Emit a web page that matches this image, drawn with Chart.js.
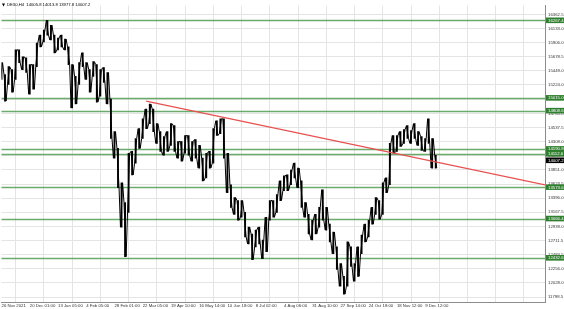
<!DOCTYPE html>
<html><head><meta charset="utf-8">
<script src="https://cdn.jsdelivr.net/npm/chart.js@4.4.0/dist/chart.umd.min.js"></script>
<style>html,body{margin:0;padding:0;background:#fff;overflow:hidden}#wrap{width:564px;height:309px;position:relative}</style>
</head><body><div id="wrap"><canvas id="c" width="564" height="309"></canvas></div>
<script>
const symbolTitle = "DE30,H4  14005.8 14013.8 13977.8 14007.2";
const dateLabels = ["26 Nov 2021","20 Dec 01:00","13 Jan 05:00","4 Feb 05:00","28 Feb 01:00","22 Mar 05:00","19 Apr 10:00","16 May 14:00","10 Jun 18:00","8 Jul 02:00","4 Aug 06:00","31 Aug 10:00","27 Sep 14:00","24 Oct 18:00","18 Nov 12:00","9 Dec 12:00"];
const priceTicks = [16362.5,16133.0,15906.0,15678.5,15449.0,15224.0,14994.5,14765.0,14537.5,14308.0,14080.5,13851.0,13623.5,13396.0,13167.5,12939.0,12711.5,12483.5,12256.0,12028.0,11798.5];
const highs = [15583,15393,15520,15472,15790,15790,15679,15663,15552,15552,15901,16029,16108,16267,16188,16029,15981,16029,15965,15838,
15552,15361,15583,15742,15583,15472,15599,15552,15472,15504,15424,14995,14470,14200,13644,13326,14121,14152,14359,14518,
14677,14836,14916,14836,14598,14470,14391,14470,14598,14566,14311,14311,14407,14407,14311,14343,14248,14041,14121,14152,
14518,14645,14677,14677,14121,13612,13405,13357,13357,13167,12928,12817,12880,12928,12721,13087,13357,13357,13453,13675,
13755,13771,13850,13961,13882,13675,13326,13135,13039,13135,13246,13532,13246,12976,12849,12610,12340,12133,12690,12610,
12340,12610,12801,12976,13039,13246,13405,13357,13644,13723,14280,14407,14407,14470,14502,14566,14486,14598,14470,14391,
14359,14677,14359,14089];
const lows = [15313,14963,15234,15106,15313,15583,15472,15424,15075,15154,15520,15838,15917,16029,15949,15742,15790,15838,15790,15552,
14852,14916,15234,15520,15313,15106,15361,14947,15043,15265,14916,14359,14041,13564,12928,12451,13167,13771,13961,14200,
14359,14518,14598,14470,14280,14152,14089,14152,14248,14152,14041,13993,14121,14089,13993,14041,13882,13675,13723,13882,
13961,14407,14439,14041,13485,13246,13135,13039,13087,12769,12658,12403,12610,12658,12419,12531,13039,13087,13167,13357,
13516,13516,13612,13723,13564,13246,13087,12817,12721,12817,12928,13039,12880,12690,12499,12244,11974,11847,11974,12292,
12054,12133,12499,12690,12769,12976,13135,13055,13135,13485,13612,14121,14152,14232,14280,14359,14280,14359,14248,14168,
14152,14280,13882,13882];
const levels = [16267.4,15015.0,14808.6,14190.9,14112.6,13573.6,13066.4,12432.6];
const lastPrice = 14007.2;
const trendPoints = [{x:40.96,y:14963},{x:153.95,y:13611}];

const Y_MIN = 11719.3, Y_MAX = 16505.1, X_MAX = 153.95;
const FONT = {size:4.3, family:'"Liberation Sans", Arial, sans-serif'};

// zigzag trace through each bar's low and high (built from the arrays above)
const trace = [];
highs.forEach((h,i)=>{
  if(i%2===0){ trace.push({x:i-0.3,y:lows[i]}); trace.push({x:i+0.3,y:h}); }
  else { trace.push({x:i-0.3,y:h}); trace.push({x:i+0.3,y:lows[i]}); }
});

const overlay = {
  id:'overlay',
  beforeDatasetsDraw(chart){
    const {ctx, chartArea:a, scales:{y}} = chart;
    ctx.save();
    ctx.strokeStyle = 'rgba(70,150,70,0.8)';
    ctx.lineWidth = 1.4;
    levels.forEach(v=>{
      const py = Math.round(y.getPixelForValue(v))+0.5;
      ctx.beginPath(); ctx.moveTo(a.left,py); ctx.lineTo(a.right,py); ctx.stroke();
    });
    ctx.restore();
  },
  afterDraw(chart){
    const {ctx, chartArea:a, scales:{y}} = chart;
    ctx.save();
    ctx.font = `${FONT.size}px ${FONT.family}`;
    ctx.textBaseline = 'middle';
    const box = (v, fill) => {
      const py = y.getPixelForValue(v);
      ctx.fillStyle = fill;
      ctx.fillRect(a.right+1, py-2.8, chart.width-a.right-1, 5.6);
      ctx.fillStyle = '#fff';
      ctx.fillText(v.toFixed(1), a.right+3, py+0.3);
    };
    levels.forEach(v=>box(v,'#2f7f2f'));
    box(lastPrice,'#000');
    ctx.fillStyle = '#000';
    ctx.beginPath(); ctx.moveTo(2,3.5); ctx.lineTo(5,3.5); ctx.lineTo(3.5,6.5); ctx.closePath(); ctx.fill();
    ctx.font = `4.2px ${FONT.family}`;
    ctx.fillText(symbolTitle, 7, 5.2);
    ctx.restore();
  }
};

new Chart(document.getElementById('c'), {
  type:'bar',
  data:{datasets:[
    {type:'bar', data: highs.map((h,i)=>({x:i, y:[lows[i],h]})), backgroundColor:'#000', borderWidth:0, barThickness:1.2, grouped:false, order:2},
    {type:'line', data: trace, borderColor:'#000', borderWidth:1, pointRadius:0, tension:0, order:1},
    {type:'line', data: trendPoints, borderColor:'#e8504f', borderWidth:1.2, pointRadius:0, order:0}
  ]},
  options:{
    responsive:false, animation:false, devicePixelRatio:1,
    layout:{padding:0},
    plugins:{legend:{display:false}, tooltip:{enabled:false}},
    scales:{
      x:{type:'linear', min:0, max:X_MAX, offset:false,
        afterBuildTicks:s=>{ s.ticks = []; for(let k=0;k*8<=X_MAX;k++) s.ticks.push({value:k*8}); },
        afterFit:s=>{ s.height = 7; },
        grid:{color:'#e4e4e4', drawTicks:false, lineWidth:1},
        border:{color:'#8c8c8c'},
        ticks:{autoSkip:false, maxRotation:0, minRotation:0, align:'start', padding:1.5, font:FONT, color:'#333',
          callback:(v)=>{ const k = Math.round(v/8); return dateLabels[k] ?? ''; }}
      },
      y:{type:'linear', position:'right', min:Y_MIN, max:Y_MAX,
        afterBuildTicks:s=>{ s.ticks = priceTicks.map(v=>({value:v})); },
        afterFit:s=>{ s.width = 19; },
        grid:{color:'#e4e4e4', drawTicks:false, lineWidth:1},
        border:{color:'#8c8c8c'},
        ticks:{padding:3, font:FONT, color:'#333', callback:(v)=>Number(v).toFixed(1)}
      }
    }
  },
  plugins:[overlay]
});
</script></body></html>
